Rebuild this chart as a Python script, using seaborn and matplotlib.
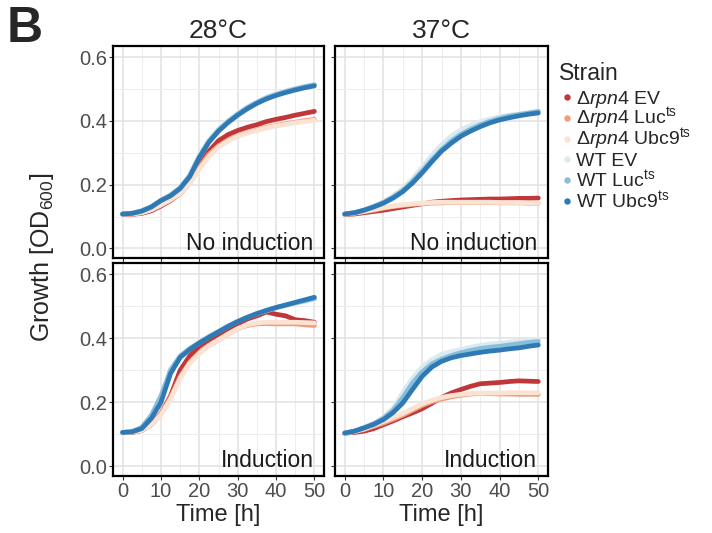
import pandas as pd
import numpy as np
import seaborn as sns
import matplotlib.pyplot as plt
from matplotlib.lines import Line2D

time_h = [0, 2.5, 5, 7.5, 10, 12.5, 15, 17.5, 20, 22.5, 25, 27.5, 30,
          32.5, 35, 37.5, 40, 42.5, 45, 47.5, 50]

strains = ['rpn4 EV', 'rpn4 Luc', 'rpn4 Ubc9', 'WT EV', 'WT Luc', 'WT Ubc9']
strain_labels = [r'Δ$\mathit{rpn4}$ EV',
                 r'Δ$\mathit{rpn4}$ Luc$^{\mathrm{ts}}$',
                 r'Δ$\mathit{rpn4}$ Ubc9$^{\mathrm{ts}}$',
                 'WT EV',
                 r'WT Luc$^{\mathrm{ts}}$',
                 r'WT Ubc9$^{\mathrm{ts}}$']

x_ticks = [0, 10, 20, 30, 40, 50]
y_ticks = [0.0, 0.2, 0.4, 0.6]

# 28 C, no induction
od_28_no = {
    'rpn4 EV':   [.107, .107, .110, .118, .133, .150, .172, .205, .258, .305, .338, .357, .370, .380, .388, .398, .405, .411, .418, .424, .430],
    'rpn4 Luc':  [.108, .108, .112, .122, .138, .155, .175, .208, .255, .295, .322, .340, .354, .364, .372, .380, .386, .391, .396, .401, .405],
    'rpn4 Ubc9': [.108, .108, .112, .121, .136, .152, .172, .203, .248, .288, .318, .337, .352, .362, .370, .378, .384, .389, .394, .398, .402],
    'WT EV':     [.108, .111, .119, .132, .152, .168, .192, .231, .292, .340, .375, .401, .424, .444, .460, .474, .485, .494, .502, .509, .515],
    'WT Luc':    [.108, .110, .118, .131, .151, .167, .190, .228, .288, .336, .371, .398, .421, .441, .458, .472, .483, .492, .500, .507, .513],
    'WT Ubc9':   [.108, .110, .117, .130, .150, .165, .188, .225, .285, .333, .368, .395, .418, .438, .455, .469, .480, .489, .497, .504, .510],
}

# 37 C, no induction
od_37_no = {
    'rpn4 EV':   [.107, .108, .112, .116, .120, .125, .130, .135, .140, .145, .148, .150, .152, .153, .154, .155, .155, .156, .157, .157, .158],
    'rpn4 Luc':  [.108, .110, .115, .120, .126, .131, .135, .138, .140, .142, .143, .144, .144, .144, .144, .144, .143, .143, .143, .142, .142],
    'rpn4 Ubc9': [.108, .111, .116, .122, .128, .133, .137, .140, .142, .144, .145, .145, .145, .145, .145, .145, .144, .144, .144, .143, .143],
    'WT EV':     [.108, .112, .121, .133, .147, .165, .188, .218, .255, .292, .325, .352, .372, .386, .398, .406, .413, .418, .422, .425, .428],
    'WT Luc':    [.108, .112, .120, .131, .144, .161, .182, .210, .243, .278, .310, .337, .358, .374, .388, .399, .408, .415, .420, .425, .430],
    'WT Ubc9':   [.108, .112, .120, .130, .142, .158, .178, .205, .237, .272, .305, .330, .352, .368, .382, .394, .403, .410, .416, .421, .425],
}

# 28 C, induction
od_28_ind = {
    'rpn4 EV':   [.106, .106, .112, .130, .165, .220, .300, .345, .375, .395, .412, .430, .445, .460, .470, .482, .475, .470, .458, .455, .450],
    'rpn4 Luc':  [.106, .107, .113, .133, .165, .215, .280, .325, .355, .378, .395, .413, .430, .440, .445, .446, .445, .445, .445, .442, .440],
    'rpn4 Ubc9': [.106, .107, .112, .130, .160, .210, .275, .322, .352, .376, .395, .413, .430, .442, .448, .450, .450, .450, .450, .449, .448],
    'WT EV':     [.106, .109, .120, .155, .210, .305, .342, .366, .386, .404, .421, .438, .453, .466, .477, .486, .495, .502, .510, .516, .522],
    'WT Luc':    [.106, .109, .122, .160, .220, .300, .345, .368, .387, .405, .421, .438, .453, .466, .477, .487, .496, .503, .510, .517, .524],
    'WT Ubc9':   [.106, .108, .118, .150, .200, .290, .340, .365, .385, .403, .420, .437, .452, .465, .477, .487, .496, .504, .512, .520, .528],
}

# 37 C, induction
od_37_ind = {
    'rpn4 EV':   [.104, .106, .110, .118, .130, .142, .155, .167, .180, .197, .215, .229, .240, .250, .258, .260, .262, .265, .267, .266, .265],
    'rpn4 Luc':  [.104, .108, .115, .125, .135, .147, .160, .175, .190, .202, .210, .217, .222, .226, .228, .227, .226, .226, .225, .225, .225],
    'rpn4 Ubc9': [.104, .109, .117, .128, .140, .152, .165, .180, .195, .206, .215, .221, .225, .228, .229, .229, .229, .230, .230, .230, .230],
    'WT EV':     [.104, .110, .122, .135, .153, .182, .230, .275, .310, .333, .350, .358, .365, .372, .378, .382, .385, .388, .391, .393, .395],
    'WT Luc':    [.104, .110, .121, .133, .150, .175, .215, .260, .295, .320, .335, .346, .355, .362, .368, .372, .375, .379, .383, .387, .390],
    'WT Ubc9':   [.104, .110, .120, .131, .146, .168, .198, .240, .281, .310, .328, .339, .346, .351, .356, .360, .363, .367, .370, .375, .379],
}

panels = [('28°C', 'No induction', od_28_no),
          ('37°C', 'No induction', od_37_no),
          ('28°C', 'Induction', od_28_ind),
          ('37°C', 'Induction', od_37_ind)]

rows = []
for temp, ind, d in panels:
    for s in strains:
        for t, v in zip(time_h, d[s]):
            rows.append({'time': t, 'od': v, 'strain': s, 'temp': temp, 'induction': ind})
df = pd.DataFrame(rows)

sns.set_theme(style='white')
plt.rcParams['font.family'] = ['Liberation Sans', 'DejaVu Sans']
plt.rcParams['mathtext.fontset'] = 'custom'
plt.rcParams['mathtext.rm'] = 'Liberation Sans'
plt.rcParams['mathtext.it'] = 'Liberation Sans:italic'
plt.rcParams['mathtext.bf'] = 'Liberation Sans:bold'

palette = sns.color_palette('RdBu', 6)
W, H = 712, 533
fig = plt.figure(figsize=(W / 100, H / 100), dpi=100)

# panel boxes in pixels: left, top, right, bottom
boxes = [(113, 46, 324, 258), (335, 46, 548, 258),
         (113, 263, 324, 476), (335, 263, 548, 476)]

for i, ((temp, ind, d), (l, t, r, b)) in enumerate(zip(panels, boxes)):
    ax = fig.add_axes([l / W, 1 - b / H, (r - l) / W, (b - t) / H])
    sub = df[(df['temp'] == temp) & (df['induction'] == ind)]
    sns.lineplot(data=sub, x='time', y='od', hue='strain', hue_order=strains,
                 palette=palette, lw=3.4, legend=False, estimator=None,
                 sort=False, ax=ax)
    ax.set_xlim(-2.5, 52.5)
    ax.set_ylim(-0.03, 0.635)
    ax.set_xticks(x_ticks)
    ax.set_xticks([5, 15, 25, 35, 45], minor=True)
    ax.set_yticks(y_ticks)
    ax.set_yticks([0.1, 0.3, 0.5], minor=True)
    ax.grid(which='major', color='#e2e2e2', lw=1.1)
    ax.grid(which='minor', color='#eeeeee', lw=0.7)
    ax.set_axisbelow(True)
    for sp in ax.spines.values():
        sp.set_color('black')
        sp.set_linewidth(1.6)
    ax.tick_params(which='major', length=3, width=0.8, color='#333333',
                   labelsize=14.5, labelcolor='#4d4d4d', pad=1.5,
                   bottom=True, left=True)
    ax.tick_params(which='minor', length=0)
    ax.set_xlabel('')
    ax.set_ylabel('')
    if i % 2 == 1:
        ax.set_yticklabels([])
    else:
        ax.set_yticklabels([f'{v:.1f}' for v in y_ticks])
    if i < 2:
        ax.set_xticklabels([])
        ax.set_title(temp, fontsize=19, pad=6)
    else:
        ax.set_xticklabels([str(v) for v in x_ticks])
        ax.set_xlabel('Time [h]', fontsize=17, labelpad=2)
    ax.text(0.95, 0.04, ind, transform=ax.transAxes, ha='right', va='baseline',
            fontsize=16.5, color='#1a1a1a')

fig.text(42 / W, 1 - 257 / H, 'Growth [OD$_{600}$]', rotation=90,
         ha='center', va='center', fontsize=18)
fig.text(7 / W, 1 - 29 / H, 'B', fontsize=36, fontweight='bold',
         ha='left', va='center')

# legend, drawn row by row so the rows stay evenly spaced
fig.text(559 / W, 1 - 80 / H, 'Strain', fontsize=16.5, va='baseline', ha='left')
for k, (c, lab) in enumerate(zip(palette, strain_labels)):
    yy = 97 + 20.8 * k
    fig.add_artist(Line2D([567 / W], [1 - yy / H], marker='o', ls='',
                          color=c, ms=3.6, transform=fig.transFigure))
    fig.text(576 / W, 1 - (yy + 6.5) / H, lab, fontsize=14, va='baseline', ha='left')

plt.savefig('out.png', dpi=100)
